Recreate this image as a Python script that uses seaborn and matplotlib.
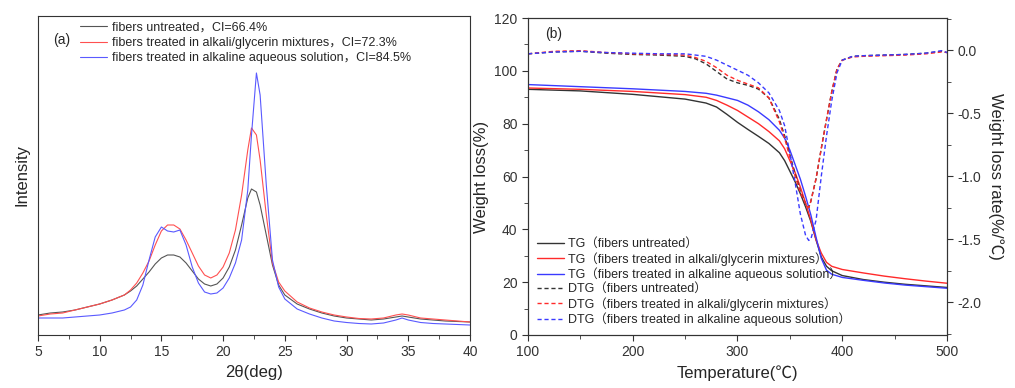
import numpy as np
import pandas as pd
import seaborn as sns
import matplotlib
matplotlib.use("Agg")
from matplotlib import pyplot as plt
from matplotlib.ticker import MultipleLocator

# ---- XRD data (panel a), intensity in arbitrary units ----
two_theta = [5, 6, 7, 8, 9, 10, 11, 12, 12.5, 13, 13.5, 14, 14.5, 15, 15.5, 16, 16.5, 17, 17.5,
             18, 18.5, 19, 19.5, 20, 20.5, 21, 21.5, 22, 22.3, 22.7, 23, 23.5, 24, 24.5, 25,
             26, 27, 28, 29, 30, 31, 32, 33, 34, 34.5, 35, 36, 37, 38, 39, 40]
xrd_untreated = [20, 22, 23, 25, 28, 31, 35, 40, 44, 49, 56, 63, 71, 77, 80, 80, 78, 72, 64,
                 56, 51, 49, 51, 57, 68, 85, 110, 137, 146, 143, 130, 100, 70, 50, 40,
                 31, 26, 22, 19, 17, 16, 15, 16, 18, 19, 18, 16, 15, 14, 13.5, 13]
xrd_glycerin = [19, 21, 22, 25, 28, 31, 35, 40, 45, 52, 62, 74, 90, 104, 110, 110, 106, 95, 82,
                69, 60, 57, 60, 68, 82, 105, 140, 185, 207, 200, 175, 120, 72, 53, 44,
                33, 27, 23, 20, 18, 16.5, 16, 17, 20, 21, 20, 17, 16, 15, 14, 13]
xrd_alkaline = [17, 17, 17, 18, 19, 20, 22, 25, 28, 35, 50, 75, 98, 108, 104, 103, 105, 90, 68,
                52, 43, 41, 42, 47, 57, 72, 95, 145, 200, 262, 240, 150, 75, 48, 36,
                26, 21, 17, 14, 12.5, 11.5, 11, 12, 15, 17, 15, 12.5, 11.5, 11, 10.5, 10]
xrd_labels = ["fibers untreated，CI=66.4%",
              "fibers treated in alkali/glycerin mixtures，CI=72.3%",
              "fibers treated in alkaline aqueous solution，CI=84.5%"]

# ---- TG data (panel b, left axis) ----
tg_temp = [100, 150, 200, 250, 270, 280, 290, 300, 310, 320, 330, 340, 345, 350, 355, 360,
           365, 370, 375, 380, 385, 390, 400, 420, 440, 460, 480, 500]
tg_untreated = [93, 92.4, 91.1, 89.3, 87.8, 86.3, 83.5, 80.5, 77.8, 75.2, 72.5, 69, 66, 62,
                58, 53.5, 48.5, 43, 36, 29.5, 26, 24.3, 22.5, 21, 20, 19.2, 18.6, 18]
tg_glycerin = [93.5, 93, 92.2, 91, 90, 88.8, 87, 85, 82.5, 80, 77, 73.5, 70.5, 66, 61.5, 56,
               50, 43.5, 36, 31, 27.5, 26, 24.8, 23.5, 22.3, 21.3, 20.4, 19.6]
tg_alkaline = [94.8, 94, 93.2, 92.2, 91.5, 90.8, 89.8, 88.8, 87, 84.5, 81.5, 77.5, 74.5, 70,
               64.5, 59, 52.5, 45.5, 37, 29, 24.5, 23, 21.8, 20.7, 19.7, 18.9, 18.3, 17.7]

# ---- DTG data (panel b, right axis) ----
dtg_temp = [100, 125, 150, 175, 200, 225, 250, 260, 270, 280, 290, 300, 310, 320, 330, 340,
            345, 350, 355, 360, 365, 368, 370, 375, 380, 385, 390, 395, 400, 410, 420, 440,
            460, 480, 495, 500]
dtg_untreated = [-0.03, -0.015, -0.01, -0.025, -0.035, -0.04, -0.05, -0.07, -0.11, -0.17,
                 -0.23, -0.26, -0.28, -0.31, -0.38, -0.55, -0.68, -0.83, -0.98, -1.12, -1.22,
                 -1.25, -1.2, -1.02, -0.78, -0.55, -0.33, -0.15, -0.08, -0.05, -0.045, -0.04,
                 -0.035, -0.025, -0.01, -0.02]
dtg_glycerin = [-0.03, -0.01, -0.005, -0.02, -0.03, -0.035, -0.04, -0.06, -0.09, -0.14,
                -0.2, -0.24, -0.27, -0.3, -0.38, -0.57, -0.7, -0.85, -1.0, -1.13, -1.22,
                -1.25, -1.2, -1.02, -0.78, -0.55, -0.33, -0.15, -0.08, -0.055, -0.05, -0.045,
                -0.04, -0.03, -0.015, -0.02]
dtg_alkaline = [-0.03, -0.015, -0.01, -0.02, -0.025, -0.03, -0.03, -0.04, -0.05, -0.08,
                -0.12, -0.16, -0.2, -0.26, -0.34, -0.48, -0.6, -0.82, -1.05, -1.3, -1.47,
                -1.51, -1.5, -1.35, -1.0, -0.68, -0.4, -0.18, -0.08, -0.05, -0.045, -0.04,
                -0.035, -0.025, -0.005, -0.02]
tg_labels = ["TG（fibers untreated）",
             "TG（fibers treated in alkali/glycerin mixtures）",
             "TG（fibers treated in alkaline aqueous solution）"]
dtg_labels = ["DTG（fibers untreated）",
              "DTG（fibers treated in alkali/glycerin mixtures）",
              "DTG（fibers treated in alkaline aqueous solution）"]

colors = ["#333333", "#ff2a2a", "#3a3aff"]
xrd_colors = ["#555555", "#ff5050", "#5a5aff"]

sns.set_style("ticks")
plt.rcParams['font.family'] = ['Liberation Sans', 'Noto Sans CJK SC', 'DejaVu Sans']
plt.rcParams['axes.edgecolor'] = '#333333'
plt.rcParams['xtick.color'] = '#333333'
plt.rcParams['ytick.color'] = '#333333'

fig = plt.figure(figsize=(10.15, 3.88), dpi=100)
ax1 = fig.add_axes([0.0374, 0.1366, 0.4256, 0.8222])
ax2 = fig.add_axes([0.5202, 0.1366, 0.4128, 0.8170])
ax3 = ax2.twinx()

# panel a
xrd_df = pd.DataFrame({"two_theta": two_theta, "u": xrd_untreated,
                       "g": xrd_glycerin, "a": xrd_alkaline})
for col, c, lab in zip(["u", "g", "a"], xrd_colors, xrd_labels):
    sns.lineplot(data=xrd_df, x="two_theta", y=col, color=c, lw=0.8, label=lab, ax=ax1)
ax1.set_xlim(5, 40)
ax1.set_ylim(0, 319)
ax1.set_yticks([])
ax1.xaxis.set_major_locator(MultipleLocator(5))
ax1.xaxis.set_minor_locator(MultipleLocator(2.5))
ax1.tick_params(axis='x', which='major', length=4, labelsize=10)
ax1.tick_params(axis='x', which='minor', length=3)
ax1.set_xlabel("2θ(deg)", fontsize=12)
ax1.set_ylabel("Intensity", fontsize=12, labelpad=6)
ax1.text(0.035, 0.925, "(a)", transform=ax1.transAxes, fontsize=10, va='center')
ax1.legend(loc='upper left', bbox_to_anchor=(0.077, 1.01), frameon=False, fontsize=9,
           handlelength=2.2, handletextpad=0.35, labelspacing=0.27, borderpad=0.2)
for sp in ax1.spines.values():
    sp.set_visible(True)

# panel b
tg_df = pd.DataFrame({"temp": tg_temp, "u": tg_untreated, "g": tg_glycerin, "a": tg_alkaline})
dtg_df = pd.DataFrame({"temp": dtg_temp, "u": dtg_untreated, "g": dtg_glycerin, "a": dtg_alkaline})
handles = []
for col, c, lab in zip(["u", "g", "a"], colors, tg_labels):
    sns.lineplot(data=tg_df, x="temp", y=col, color=c, lw=1.0, ax=ax2)
    handles.append(ax2.lines[-1])
    handles[-1].set_label(lab)
for col, c, lab in zip(["u", "g", "a"], colors, dtg_labels):
    sns.lineplot(data=dtg_df, x="temp", y=col, color=c, lw=1.0, ax=ax3)
    ax3.lines[-1].set_linestyle((0, (3, 2)))
    handles.append(ax3.lines[-1])
    handles[-1].set_label(lab)

ax2.set_xlim(100, 500)
ax2.set_ylim(0, 120)
ax3.set_ylim(-2.26, 0.254)
ax2.xaxis.set_major_locator(MultipleLocator(100))
ax2.xaxis.set_minor_locator(MultipleLocator(50))
ax2.yaxis.set_major_locator(MultipleLocator(20))
ax2.yaxis.set_minor_locator(MultipleLocator(10))
ax3.yaxis.set_major_locator(MultipleLocator(0.5))
ax3.yaxis.set_minor_locator(MultipleLocator(0.25))
ax3.set_yticks([0.0, -0.5, -1.0, -1.5, -2.0])
ax3.set_yticklabels(["0.0", "-0.5", "-1.0", "-1.5", "-2.0"])
for a in (ax2, ax3):
    a.tick_params(which='major', length=4, labelsize=10)
    a.tick_params(which='minor', length=3)
ax2.set_xlabel("Temperature(℃)", fontsize=12)
ax2.set_ylabel("Weight loss(%)", fontsize=12, labelpad=4)
ax3.set_ylabel("Weight loss rate(%/℃)", fontsize=12, rotation=270, labelpad=16)
ax2.text(0.04, 0.95, "(b)", transform=ax2.transAxes, fontsize=10, va='center')
if ax3.get_legend():
    ax3.get_legend().remove()
ax2.legend(handles=handles, loc='lower left', bbox_to_anchor=(0.0, 0.0), frameon=False,
           fontsize=9, handlelength=2.2, handletextpad=0.3, labelspacing=0.15, borderpad=0.2)
for sp in list(ax2.spines.values()) + list(ax3.spines.values()):
    sp.set_visible(True)

fig.savefig("out.png", dpi=100)
